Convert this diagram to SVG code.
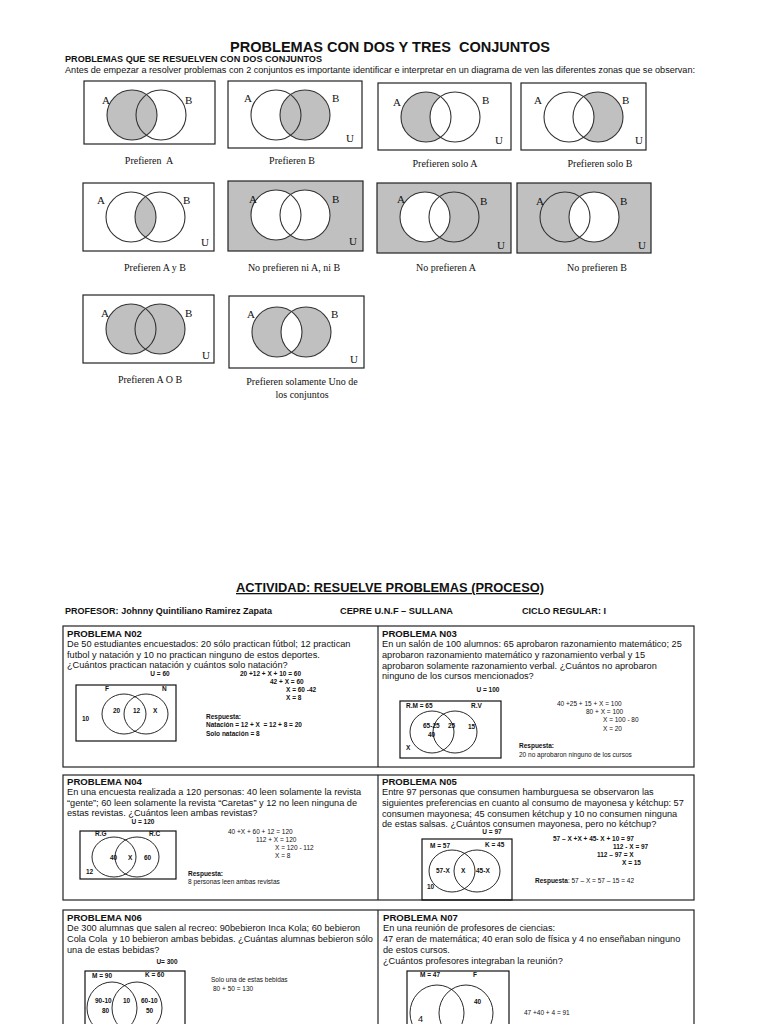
<svg xmlns="http://www.w3.org/2000/svg" width="768" height="1024" viewBox="0 0 768 1024">
<style>
.sans{font-family:"Liberation Sans",Arial,sans-serif;fill:#111}
.serif{font-family:"Liberation Serif","Times New Roman",serif;fill:#111}
.pre{white-space:pre}
.h1{font-size:14px;font-weight:bold}
.h2{font-size:9px;font-weight:bold}
.p{font-size:9.2px}
.ph{font-size:9.6px;font-weight:bold}
.lbl{font-size:6.5px;font-weight:bold}
.eq{font-size:6.5px}
.cap{font-size:10px}
.vl{font-size:11px}
.box{fill:#fff;stroke:#222;stroke-width:1.2}
.gbox{fill:#c0c0c0;stroke:#222;stroke-width:1.2}
.ring{fill:none;stroke:#333;stroke-width:1.1}
.g{fill:#c0c0c0}
.w{fill:#fff}
.cell{fill:none;stroke:#222;stroke-width:1.2}
.pc{fill:none;stroke:#111;stroke-width:0.9}
.pb{fill:none;stroke:#111;stroke-width:1.2}
</style>
<defs>
<clipPath id="clipA" clipPathUnits="userSpaceOnUse"><circle cx="48" cy="34" r="25"/></clipPath>
</defs>

<g id="header">
<text class="sans h1 pre" x="390" y="52" text-anchor="middle" textLength="320" lengthAdjust="spacingAndGlyphs">PROBLEMAS CON DOS Y TRES  CONJUNTOS</text>
<text class="sans h2" x="65" y="62" textLength="257" lengthAdjust="spacingAndGlyphs">PROBLEMAS QUE SE RESUELVEN CON DOS CONJUNTOS</text>
<text class="sans p" x="65" y="73" textLength="630" lengthAdjust="spacingAndGlyphs">Antes de empezar a resolver problemas con 2 conjuntos es importante identificar e interpretar en un diagrama de ven las diferentes zonas que se observan:</text>
</g>

<!-- Row 1 -->
<g id="v-prefieren-a" transform="translate(84,81)">
<rect class="box" width="131" height="63"/>
<circle class="g" cx="48" cy="34" r="25"/>
<circle class="ring" cx="48" cy="34" r="25"/><circle class="ring" cx="77" cy="34" r="25"/>
<text class="serif vl" x="18" y="23">A</text><text class="serif vl" x="101" y="23">B</text>
</g>
<text class="serif cap pre" x="149" y="164" text-anchor="middle">Prefieren  A</text>

<g id="v-prefieren-b" transform="translate(228,81)">
<rect class="box" width="134" height="67"/>
<circle class="g" cx="77" cy="34" r="25"/>
<circle class="ring" cx="48" cy="34" r="25"/><circle class="ring" cx="77" cy="34" r="25"/>
<text class="serif vl" x="16" y="21">A</text><text class="serif vl" x="104" y="21">B</text><text class="serif vl" x="118" y="61">U</text>
</g>
<text class="serif cap" x="292" y="164" text-anchor="middle">Prefieren B</text>

<g id="v-solo-a" transform="translate(378,83)">
<rect class="box" width="133" height="67"/>
<circle class="g" cx="48" cy="34" r="25"/><circle class="w" cx="77" cy="34" r="25"/>
<circle class="ring" cx="48" cy="34" r="25"/><circle class="ring" cx="77" cy="34" r="25"/>
<text class="serif vl" x="15" y="23">A</text><text class="serif vl" x="104" y="21">B</text><text class="serif vl" x="117" y="61">U</text>
</g>
<text class="serif cap" x="445" y="167" text-anchor="middle">Prefieren solo A</text>

<g id="v-solo-b" transform="translate(521,83)">
<rect class="box" width="125" height="67"/>
<circle class="g" cx="77" cy="34" r="25"/><circle class="w" cx="48" cy="34" r="25"/>
<circle class="ring" cx="48" cy="34" r="25"/><circle class="ring" cx="77" cy="34" r="25"/>
<text class="serif vl" x="13" y="21">A</text><text class="serif vl" x="101" y="21">B</text><text class="serif vl" x="114" y="61">U</text>
</g>
<text class="serif cap" x="600" y="167" text-anchor="middle">Prefieren solo B</text>

<!-- Row 2 -->
<g id="v-a-y-b" transform="translate(83,183)">
<rect class="box" width="131" height="68"/>
<circle class="g" cx="77" cy="34" r="25" clip-path="url(#clipA)"/>
<circle class="ring" cx="48" cy="34" r="25"/><circle class="ring" cx="77" cy="34" r="25"/>
<text class="serif vl" x="14" y="21">A</text><text class="serif vl" x="100" y="21">B</text><text class="serif vl" x="118" y="63">U</text>
</g>
<text class="serif cap" x="155" y="271" text-anchor="middle">Prefieren A y B</text>

<g id="v-ni-a-ni-b" transform="translate(228,181)">
<rect class="gbox" width="135" height="70"/>
<circle class="w" cx="48" cy="34" r="25"/><circle class="w" cx="77" cy="34" r="25"/>
<circle class="ring" cx="48" cy="34" r="25"/><circle class="ring" cx="77" cy="34" r="25"/>
<text class="serif vl" x="21" y="22">A</text><text class="serif vl" x="104" y="22">B</text><text class="serif vl" x="121" y="64">U</text>
</g>
<text class="serif cap" x="294" y="271" text-anchor="middle">No prefieren ni A, ni B</text>

<g id="v-no-a" transform="translate(377,183)">
<rect class="gbox" width="134" height="70"/>
<circle class="w" cx="48" cy="34" r="25"/>
<circle class="ring" cx="48" cy="34" r="25"/><circle class="ring" cx="77" cy="34" r="25"/>
<text class="serif vl" x="20" y="20">A</text><text class="serif vl" x="103" y="22">B</text><text class="serif vl" x="120" y="66">U</text>
</g>
<text class="serif cap" x="446" y="271" text-anchor="middle">No prefieren A</text>

<g id="v-no-b" transform="translate(517,183)">
<rect class="gbox" width="134" height="70"/>
<circle class="w" cx="77" cy="34" r="25"/>
<circle class="ring" cx="48" cy="34" r="25"/><circle class="ring" cx="77" cy="34" r="25"/>
<text class="serif vl" x="19" y="22">A</text><text class="serif vl" x="103" y="22">B</text><text class="serif vl" x="121" y="66">U</text>
</g>
<text class="serif cap" x="597" y="271" text-anchor="middle">No prefieren B</text>

<!-- Row 3 -->
<g id="v-a-o-b" transform="translate(83,295)">
<rect class="box" width="131" height="68"/>
<circle class="g" cx="48" cy="34" r="25"/><circle class="g" cx="77" cy="34" r="25"/>
<circle class="ring" cx="48" cy="34" r="25"/><circle class="ring" cx="77" cy="34" r="25"/>
<text class="serif vl" x="18" y="22">A</text><text class="serif vl" x="102" y="22">B</text><text class="serif vl" x="119" y="64">U</text>
</g>
<text class="serif cap" x="150" y="383" text-anchor="middle">Prefieren A O B</text>

<g id="v-solo-uno" transform="translate(229,296)">
<rect class="box" width="135" height="72"/>
<circle class="g" cx="48" cy="36" r="25"/><circle class="g" cx="77" cy="36" r="25"/>
<g transform="translate(0,2)"><circle class="w" cx="77" cy="34" r="25" clip-path="url(#clipA)"/></g>
<circle class="ring" cx="48" cy="36" r="25"/><circle class="ring" cx="77" cy="36" r="25"/>
<text class="serif vl" x="18" y="22">A</text><text class="serif vl" x="102" y="22">B</text><text class="serif vl" x="121" y="67">U</text>
</g>
<text class="serif cap" x="302" y="385" text-anchor="middle">Prefieren solamente Uno de</text>
<text class="serif cap" x="302" y="398" text-anchor="middle">los conjuntos</text>

<!-- Activity -->
<g id="activity-header">
<text class="sans" x="390" y="592" text-anchor="middle" font-size="13" font-weight="bold" text-decoration="underline" textLength="308" lengthAdjust="spacingAndGlyphs">ACTIVIDAD: RESUELVE PROBLEMAS (PROCESO)</text>
<text class="sans h2" x="65" y="614" textLength="207" lengthAdjust="spacingAndGlyphs">PROFESOR: Johnny Quintiliano Ramirez Zapata</text>
<text class="sans h2" x="340" y="614" textLength="113" lengthAdjust="spacingAndGlyphs">CEPRE U.N.F – SULLANA</text>
<text class="sans h2" x="522" y="614" textLength="84" lengthAdjust="spacingAndGlyphs">CICLO REGULAR: I</text>
</g>

<g id="table-borders">
<rect class="cell" x="63" y="626" width="631" height="141"/>
<line class="cell" x1="378" y1="626" x2="378" y2="767"/>
<rect class="cell" x="63" y="775" width="631" height="125"/>
<line class="cell" x1="378" y1="775" x2="378" y2="900"/>
<rect class="cell" x="63" y="910" width="631" height="130"/>
<line class="cell" x1="378" y1="910" x2="378" y2="1024"/>
</g>

<!-- N02 -->
<g id="problema-n02">
<text class="sans ph" x="67" y="637">PROBLEMA N02</text>
<text class="sans p" x="67" y="647">De 50 estudiantes encuestados: 20 sólo practican fútbol; 12 practican</text>
<text class="sans p" x="67" y="658">futbol y natación y 10 no practican ninguno de estos deportes.</text>
<text class="sans p" x="67" y="668">¿Cuántos practican natación y cuántos solo natación?</text>
<text class="sans lbl" x="160" y="676" text-anchor="middle">U = 60</text>
<text class="sans lbl" x="240" y="676">20 +12 + X + 10 = 60</text>
<text class="sans lbl" x="270" y="684">42 + X = 60</text>
<text class="sans lbl" x="286" y="692">X = 60 -42</text>
<text class="sans lbl" x="286" y="700">X = 8</text>
<rect class="pb" x="76" y="685" width="100" height="56"/>
<text class="sans lbl" x="105" y="691">F</text>
<text class="sans lbl" x="162" y="691">N</text>
<ellipse class="pc" cx="124" cy="714" rx="22" ry="20"/>
<ellipse class="pc" cx="146" cy="714" rx="22" ry="20"/>
<text class="sans lbl" x="113" y="713">20</text>
<text class="sans lbl" x="133" y="713">12</text>
<text class="sans lbl" x="153" y="713">X</text>
<text class="sans lbl" x="82" y="721">10</text>
<text class="sans lbl" x="206" y="719">Respuesta:</text>
<text class="sans lbl pre" x="206" y="727">Natación = 12 + X  = 12 + 8 = 20</text>
<text class="sans lbl" x="206" y="736">Solo natación = 8</text>
</g>

<!-- N03 -->
<g id="problema-n03">
<text class="sans ph" x="382" y="637">PROBLEMA N03</text>
<text class="sans p" x="382" y="647">En un salón de 100 alumnos: 65 aprobaron razonamiento matemático; 25</text>
<text class="sans p" x="382" y="658">aprobaron razonamiento matemático y razonamiento verbal y 15</text>
<text class="sans p" x="382" y="669">aprobaron solamente razonamiento verbal. ¿Cuántos no aprobaron</text>
<text class="sans p" x="382" y="679">ninguno de los cursos mencionados?</text>
<text class="sans lbl" x="488" y="692" text-anchor="middle">U = 100</text>
<rect class="pb" x="400" y="701" width="101" height="57"/>
<text class="sans lbl" x="406" y="708">R.M = 65</text>
<text class="sans lbl" x="471" y="708">R.V</text>
<ellipse class="pc" cx="432" cy="732" rx="22" ry="21"/>
<ellipse class="pc" cx="455" cy="732" rx="22" ry="21"/>
<text class="sans lbl" x="423" y="728">65-25</text>
<text class="sans lbl" x="448" y="728">25</text>
<text class="sans lbl" x="468" y="729">15</text>
<text class="sans lbl" x="428" y="737">40</text>
<text class="sans lbl" x="406" y="750">X</text>
<text class="sans eq" x="557" y="706">40 +25 + 15 + X = 100</text>
<text class="sans eq" x="586" y="714">80 + X = 100</text>
<text class="sans eq" x="603" y="722">X = 100 - 80</text>
<text class="sans eq" x="603" y="731">X = 20</text>
<text class="sans lbl" x="519" y="748">Respuesta:</text>
<text class="sans eq" x="519" y="757">20 no aprobaron ninguno de los cursos</text>
</g>

<!-- N04 -->
<g id="problema-n04">
<text class="sans ph" x="67" y="785">PROBLEMA N04</text>
<text class="sans p" x="67" y="795">En una encuesta realizada a 120 personas: 40 leen solamente la revista</text>
<text class="sans p" x="67" y="806">“gente”; 60 leen solamente la revista “Caretas” y 12 no leen ninguna de</text>
<text class="sans p" x="67" y="816">estas revistas. ¿Cuántos leen ambas revistas?</text>
<text class="sans lbl" x="143" y="824" text-anchor="middle">U = 120</text>
<rect class="pb" x="80" y="831" width="96" height="48"/>
<text class="sans lbl" x="95" y="836">R.G</text>
<text class="sans lbl" x="149" y="836">R.C</text>
<ellipse class="pc" cx="114" cy="857" rx="22" ry="20"/>
<ellipse class="pc" cx="137" cy="857" rx="22" ry="20"/>
<text class="sans lbl" x="110" y="860">40</text>
<text class="sans lbl" x="128" y="860">X</text>
<text class="sans lbl" x="144" y="860">60</text>
<text class="sans lbl" x="86" y="874">12</text>
<text class="sans eq" x="228" y="834">40 +X + 60 + 12 = 120</text>
<text class="sans eq" x="256" y="842">112 + X = 120</text>
<text class="sans eq" x="275" y="850">X = 120 - 112</text>
<text class="sans eq" x="275" y="858">X = 8</text>
<text class="sans lbl" x="188" y="876">Respuesta:</text>
<text class="sans eq" x="188" y="884">8 personas leen ambas revistas</text>
</g>

<!-- N05 -->
<g id="problema-n05">
<text class="sans ph" x="382" y="785">PROBLEMA N05</text>
<text class="sans p" x="382" y="795">Entre 97 personas que consumen hamburguesa se observaron las</text>
<text class="sans p" x="382" y="806">siguientes preferencias en cuanto al consumo de mayonesa y kétchup: 57</text>
<text class="sans p" x="382" y="817">consumen mayonesa; 45 consumen kétchup y 10 no consumen ninguna</text>
<text class="sans p" x="382" y="827">de estas salsas. ¿Cuántos consumen mayonesa, pero no kétchup?</text>
<text class="sans lbl" x="492" y="834" text-anchor="middle">U = 97</text>
<rect class="pb" x="422" y="839" width="90" height="61"/>
<text class="sans lbl" x="430" y="848">M = 57</text>
<text class="sans lbl" x="485" y="847">K = 45</text>
<ellipse class="pc" cx="452" cy="871" rx="23" ry="21"/>
<ellipse class="pc" cx="477" cy="871" rx="23" ry="21"/>
<text class="sans lbl" x="436" y="873">57-X</text>
<text class="sans lbl" x="461" y="873">X</text>
<text class="sans lbl" x="476" y="873">45-X</text>
<text class="sans lbl" x="427" y="889">10</text>
<text class="sans lbl" x="553" y="841">57 – X +X + 45- X + 10 = 97</text>
<text class="sans lbl" x="613" y="849">112 - X = 97</text>
<text class="sans lbl" x="597" y="857">112 – 97 = X</text>
<text class="sans lbl" x="622" y="865">X = 15</text>
<text class="sans eq" x="535" y="883"><tspan font-weight="bold">Respuesta</tspan>: 57 – X = 57 – 15 = 42</text>
</g>

<!-- N06 -->
<g id="problema-n06">
<text class="sans ph" x="67" y="921">PROBLEMA N06</text>
<text class="sans p" x="67" y="931">De 300 alumnas que salen al recreo: 90bebieron Inca Kola; 60 bebieron</text>
<text class="sans p pre" x="67" y="942">Cola Cola  y 10 bebieron ambas bebidas. ¿Cuántas alumnas bebieron sólo</text>
<text class="sans p" x="67" y="953">una de estas bebidas?</text>
<text class="sans lbl" x="167" y="964" text-anchor="middle">U= 300</text>
<rect class="pb" x="85" y="971" width="100" height="60"/>
<text class="sans lbl" x="92" y="978">M = 90</text>
<text class="sans lbl" x="145" y="977">K = 60</text>
<ellipse class="pc" cx="112" cy="1008" rx="25" ry="26"/>
<ellipse class="pc" cx="137" cy="1008" rx="25" ry="26"/>
<text class="sans lbl" x="95" y="1003">90-10</text>
<text class="sans lbl" x="102" y="1013">80</text>
<text class="sans lbl" x="123" y="1003">10</text>
<text class="sans lbl" x="141" y="1003">60-10</text>
<text class="sans lbl" x="146" y="1013">50</text>
<text class="sans eq" x="211" y="982">Solo una de estas bebidas</text>
<text class="sans eq" x="213" y="991">80 + 50 = 130</text>
</g>

<!-- N07 -->
<g id="problema-n07">
<text class="sans ph" x="383" y="921">PROBLEMA N07</text>
<text class="sans p" x="383" y="931">En una reunión de profesores de ciencias:</text>
<text class="sans p" x="383" y="942">47 eran de matemática; 40 eran solo de física y 4 no enseñaban ninguno</text>
<text class="sans p" x="383" y="953">de estos cursos.</text>
<text class="sans p" x="383" y="964">¿Cuántos profesores integraban la reunión?</text>
<rect class="pb" x="407" y="971" width="102" height="60"/>
<text class="sans lbl" x="420" y="977">M = 47</text>
<text class="sans lbl" x="473" y="977">F</text>
<ellipse class="pc" cx="437" cy="1013" rx="27" ry="28"/>
<ellipse class="pc" cx="466" cy="1013" rx="27" ry="28"/>
<text class="sans lbl" x="474" y="1004">40</text>
<text class="sans p" x="418" y="1022">4</text>
<text class="sans eq" x="524" y="1015">47 +40 + 4 = 91</text>
</g>
</svg>
